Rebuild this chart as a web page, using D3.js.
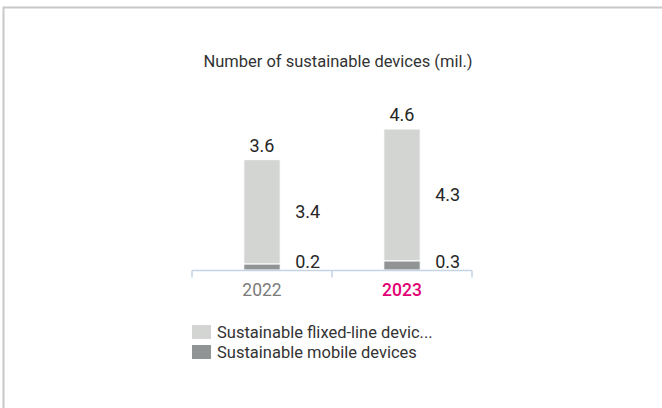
<!DOCTYPE html>
<html>
<head>
<meta charset="utf-8">
<script src="https://cdn.jsdelivr.net/npm/d3@7"></script>
<style>
  body { margin: 0; background: #fff; }
  text { font-family: "Roboto", "Noto Sans", sans-serif; }
</style>
</head>
<body>
<div id="chart"></div>
<script>
// Sustainable devices stacked bar chart

// Data
const years = ["2022", "2023"];
const fixedLine = [3.4, 4.3];
const mobile = [0.2, 0.3];
const totals = [3.6, 4.6];
const seriesNames = ["Sustainable flixed-line devic...", "Sustainable mobile devices"];
const seriesColors = ["#d3d5d3", "#919494"];
const yearColors = ["#7b7b7b", "#e20074"];

const W = 662, H = 408;

const svg = d3.select("#chart")
  .append("svg")
    .attr("width", W)
    .attr("height", H);

// frame: top and left edge only
svg.append("path")
  .attr("d", `M3.5,${H} V7.5 H${W}`)
  .attr("fill", "none")
  .attr("stroke", "#c8c8c8")
  .attr("stroke-width", 2);

// title
svg.append("text")
  .attr("x", 338)
  .attr("y", 67)
  .attr("text-anchor", "middle")
  .attr("font-size", "16.5px")
  .attr("fill", "#333")
  .text("Number of sustainable devices (mil.)");

// scales
const x = d3.scaleBand()
  .domain(years)
  .range([192, 472])
  .paddingInner(0.74)
  .paddingOuter(0.37);

const y = d3.scaleLinear()
  .domain([0, 4.6])
  .range([270, 129]);

// stack the two series
const rows = years.map((yr, i) => ({year: yr, mobile: mobile[i], fixed: fixedLine[i]}));
const stacked = d3.stack().keys(["mobile", "fixed"])(rows);
const colorOf = {mobile: seriesColors[1], fixed: seriesColors[0]};

svg.append("g")
  .selectAll("g")
  .data(stacked)
  .enter()
  .append("g")
    .attr("fill", d => colorOf[d.key])
  .selectAll("rect")
  .data(d => d)
  .enter()
  .append("rect")
    .attr("x", d => x(d.data.year))
    .attr("y", d => y(d[1]))
    .attr("width", x.bandwidth())
    .attr("height", d => y(d[0]) - y(d[1]))
    .attr("stroke", "#fff")
    .attr("stroke-width", 1);

// segment labels to the right of the bars
stacked.forEach(layer => {
  svg.selectAll(null)
    .data(layer)
    .enter()
    .append("text")
      .attr("x", d => x(d.data.year) + x.bandwidth() + 15)
      .attr("y", d => Math.min((y(d[0]) + y(d[1])) / 2, 262))
      .attr("dy", "0.36em")
      .attr("font-size", "18px")
      .attr("fill", "#262626")
      .text(d => d.data[layer.key].toFixed(1));
});

// totals above the bars
svg.selectAll(null)
  .data(years)
  .enter()
  .append("text")
    .attr("x", d => x(d) + x.bandwidth() / 2)
    .attr("y", (d, i) => y(totals[i]) - 8)
    .attr("text-anchor", "middle")
    .attr("font-size", "18px")
    .attr("fill", "#262626")
    .text((d, i) => totals[i].toFixed(1));

// category axis with bracket ticks
const axisY = 270.5;
svg.append("line")
  .attr("x1", 192).attr("x2", 472)
  .attr("y1", axisY).attr("y2", axisY)
  .attr("stroke", "#c5d3e6").attr("stroke-width", 1.5);

[192, 332, 472].forEach(tx => {
  svg.append("line")
    .attr("x1", tx).attr("x2", tx)
    .attr("y1", axisY).attr("y2", axisY + 7)
    .attr("stroke", "#c5d3e6").attr("stroke-width", 1.5);
});

svg.selectAll(null)
  .data(years)
  .enter()
  .append("text")
    .attr("x", d => x(d) + x.bandwidth() / 2)
    .attr("y", 296)
    .attr("text-anchor", "middle")
    .attr("font-size", "17.5px")
    .attr("font-weight", (d, i) => i === 1 ? 500 : 400)
    .attr("fill", (d, i) => yearColors[i])
    .text(d => d);

// legend
const legend = svg.append("g")
  .selectAll("g")
  .data(seriesNames)
  .enter()
  .append("g")
    .attr("transform", (d, i) => `translate(192,${325 + i * 20})`);

legend.append("rect")
  .attr("width", 19)
  .attr("height", 14)
  .attr("fill", (d, i) => seriesColors[i]);

legend.append("text")
  .attr("x", 25)
  .attr("y", 7)
  .attr("dy", "0.36em")
  .attr("font-size", "16.5px")
  .attr("fill", "#333")
  .text(d => d);
</script>
</body>
</html>
